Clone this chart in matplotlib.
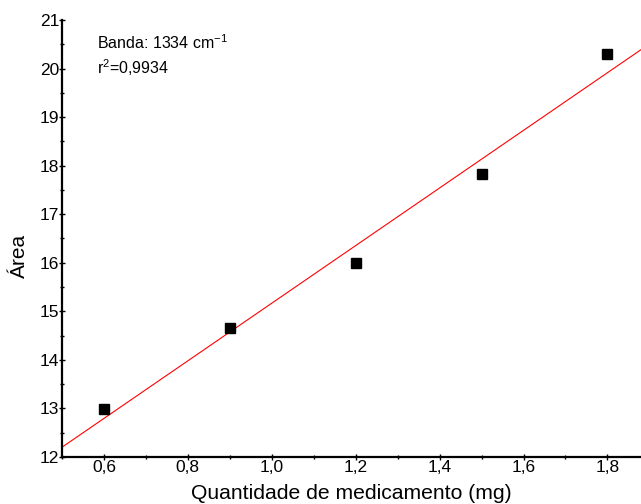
import numpy as np
import matplotlib.pyplot as plt
from matplotlib.ticker import MultipleLocator, FuncFormatter

# amount of drug (mg) and integrated band area
quantidade = [0.6, 0.9, 1.2, 1.5, 1.8]
area = [12.99, 14.66, 15.99, 17.82, 20.31]

plt.rcParams['font.family'] = ['Liberation Sans', 'DejaVu Sans']
plt.rcParams['mathtext.fontset'] = 'custom'
plt.rcParams['mathtext.rm'] = 'Liberation Sans'
plt.rcParams['mathtext.default'] = 'regular'

fig = plt.figure(figsize=(6.41, 5.04), dpi=100)
ax = fig.add_axes([0.0967, 0.0933, 0.9033, 0.867])

# linear fit over the whole x range
coef = np.polyfit(quantidade, area, 1)
xfit = np.array([0.5, 1.9])
ax.plot(xfit, np.polyval(coef, xfit), color='red', lw=0.8)
ax.plot(quantidade, area, 's', color='black', markersize=7.5)

ax.set_xlim(0.5, 1.88)
ax.set_ylim(12, 21)
ax.xaxis.set_major_locator(MultipleLocator(0.2))
ax.xaxis.set_minor_locator(MultipleLocator(0.1))
ax.yaxis.set_major_locator(MultipleLocator(1))
ax.yaxis.set_minor_locator(MultipleLocator(0.5))
ax.xaxis.set_major_formatter(FuncFormatter(lambda v, p: f'{v:.1f}'.replace('.', ',')))
ax.yaxis.set_major_formatter(FuncFormatter(lambda v, p: f'{v:.0f}'))

for s in ['top', 'right']:
    ax.spines[s].set_visible(False)
for s in ['left', 'bottom']:
    ax.spines[s].set_linewidth(1.6)

ax.tick_params(which='both', direction='inout', width=1, labelsize=12.5)
ax.tick_params(which='major', length=4, pad=0)
ax.tick_params(which='minor', length=3)

ax.set_xlabel('Quantidade de medicamento (mg)', fontsize=15.2, labelpad=7)
ax.set_ylabel('Área', fontsize=15)
ax.yaxis.set_label_coords(-0.057, 0.46)

ax.text(0.584, 20.40, 'Banda: 1334 cm$^{-1}$', fontsize=11.5)
ax.text(0.584, 19.89, 'r$^2$=0,9934', fontsize=11.5)

fig.savefig('out.png', dpi=100)
